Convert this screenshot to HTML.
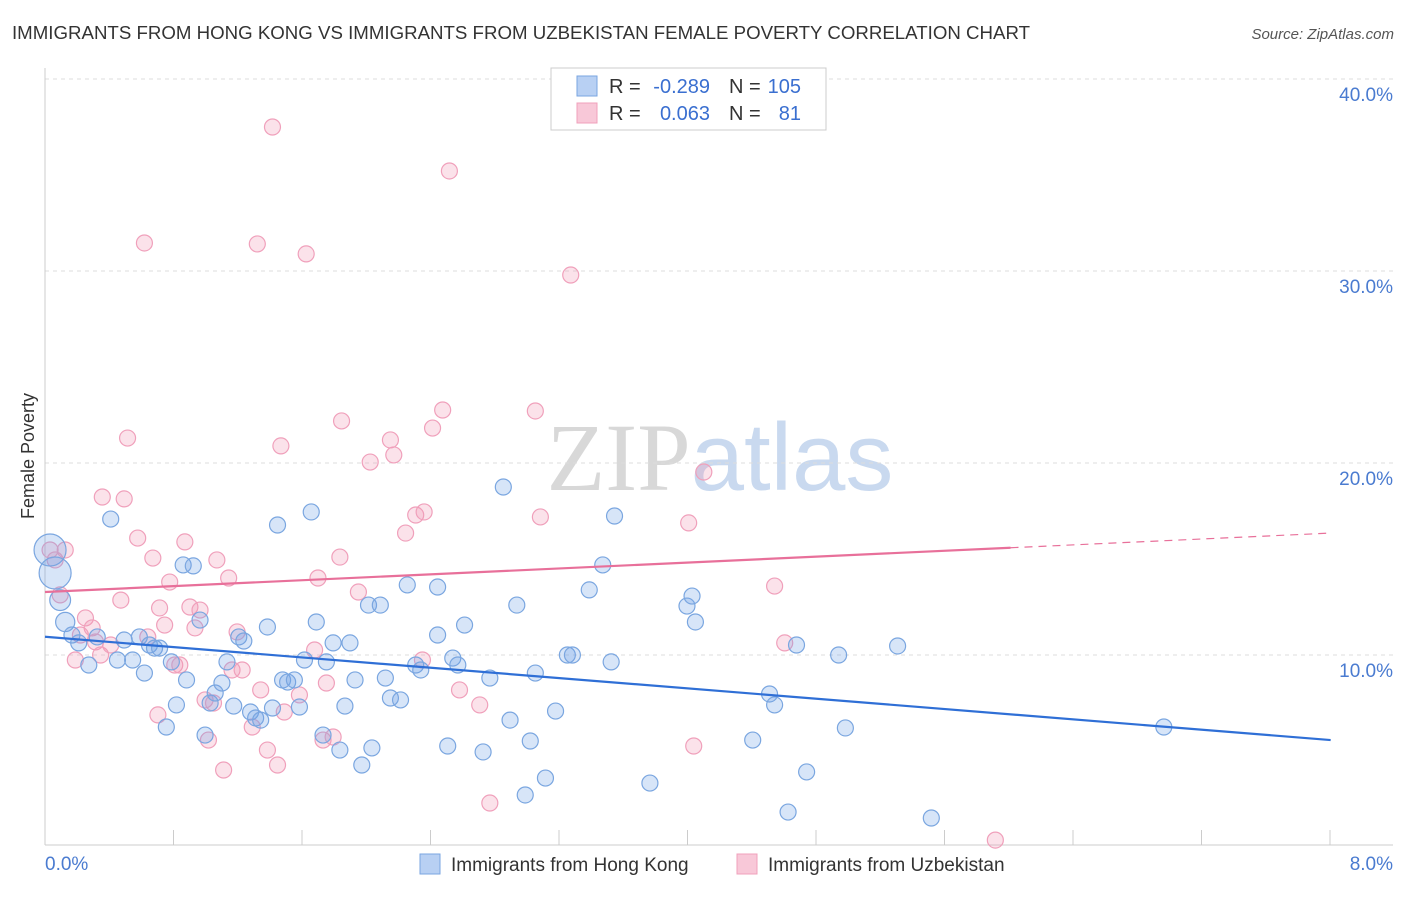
<!DOCTYPE html>
<html><head><meta charset="utf-8">
<style>
body{margin:0;background:#fff;font-family:"Liberation Sans",sans-serif;}
svg text{font-family:"Liberation Sans",sans-serif;}
</style></head>
<body>
<svg id="chart" width="1406" height="892" xmlns="http://www.w3.org/2000/svg">
<text x="12" y="39" font-size="18" fill="#333" textLength="1018" lengthAdjust="spacingAndGlyphs">IMMIGRANTS FROM HONG KONG VS IMMIGRANTS FROM UZBEKISTAN FEMALE POVERTY CORRELATION CHART</text>
<text x="1394" y="39" font-size="15" fill="#555" font-style="italic" text-anchor="end">Source: ZipAtlas.com</text>
<text x="720" y="490" font-size="96" fill="#ddd" text-anchor="middle" font-family="Liberation Serif"><tspan fill="#d8d8d8" font-family="Liberation Serif">ZIP</tspan><tspan fill="#c9d9ef" font-family="Liberation Sans">atlas</tspan></text>
<text x="34" y="456" font-size="18" fill="#333" text-anchor="middle" transform="rotate(-90 34 456)">Female Poverty</text>
<g id="grid"></g>
<g id="pts"></g>
<g id="trends"></g>
<g>
<rect x="551" y="68" width="275" height="62" fill="#fff" stroke="#ccc"/>
<rect x="577" y="76" width="20" height="20" fill="#b8d0f3" stroke="#7aa6e0"/>
<rect x="577" y="103" width="20" height="20" fill="#f8c8d8" stroke="#f0a0bb"/>
<text x="609" y="93" font-size="20" fill="#333">R =</text>
<text x="710" y="93" font-size="20" fill="#3a6fd0" text-anchor="end">-0.289</text>
<text x="729" y="93" font-size="20" fill="#333">N =</text>
<text x="801" y="93" font-size="20" fill="#3a6fd0" text-anchor="end">105</text>
<text x="609" y="120" font-size="20" fill="#333">R =</text>
<text x="710" y="120" font-size="20" fill="#3a6fd0" text-anchor="end">0.063</text>
<text x="729" y="120" font-size="20" fill="#333">N =</text>
<text x="801" y="120" font-size="20" fill="#3a6fd0" text-anchor="end">81</text>
</g>
<g>
<rect x="420" y="854" width="20" height="20" fill="#b8d0f3" stroke="#7aa6e0"/>
<text x="451" y="871" font-size="19" fill="#333">Immigrants from Hong Kong</text>
<rect x="737" y="854" width="20" height="20" fill="#f8c8d8" stroke="#f0a0bb"/>
<text x="768" y="871" font-size="19" fill="#333">Immigrants from Uzbekistan</text>
</g>
</svg>
<script>
const xTickLabels=["0.0%","8.0%"];
const yTicks=[10,20,30,40];
const yTickLabels=["10.0%","20.0%","30.0%","40.0%"];
const blueX=[0.03,0.06,0.09,0.12,0.16,0.20,0.26,0.31,0.39,0.43,0.47,0.52,0.56,0.59,0.62,0.65,0.68,0.72,0.75,0.78,0.82,0.84,0.88,0.92,0.95,0.98,1.01,1.05,1.08,1.12,1.15,1.18,1.22,1.25,1.28,1.32,1.35,1.38,1.41,1.44,1.48,1.51,1.54,1.58,1.61,1.65,1.67,1.71,1.75,1.78,1.81,1.84,1.88,1.92,1.94,1.99,2.02,2.05,2.11,2.15,2.20,2.23,2.33,2.33,2.39,2.42,2.45,2.49,2.60,2.64,2.72,2.76,2.80,2.85,2.88,2.91,2.97,3.03,3.10,3.13,3.23,3.31,3.36,3.38,3.59,3.81,3.84,3.86,4.20,4.30,4.33,4.41,4.46,4.52,4.71,4.75,5.06,5.26,6.64];
const blueY=[15.47,14.27,12.86,11.72,11.04,10.63,9.48,10.94,17.08,9.74,10.78,9.74,10.94,9.06,10.52,10.36,10.36,6.25,9.64,7.40,14.69,8.70,14.64,11.82,5.83,7.50,8.02,8.54,9.64,7.34,10.94,10.73,7.03,6.72,6.61,11.46,7.24,16.77,8.70,8.59,8.70,7.29,9.74,17.45,11.72,5.83,9.64,10.63,5.05,7.34,10.63,8.70,4.27,12.60,5.16,12.60,8.80,7.76,7.66,13.65,9.48,9.22,13.54,11.04,5.26,9.84,9.48,11.56,4.95,8.80,18.75,6.61,12.60,2.71,5.52,9.06,3.59,7.08,10.0,10.0,13.39,14.69,9.64,17.24,3.33,12.55,13.07,11.72,5.57,7.97,7.40,1.82,10.52,3.91,10.0,6.20,10.47,1.51,6.25];
const blueSize=[2,2,1.3,1.2];
const pinkX=[0.03,0.06,0.09,0.12,0.18,0.21,0.24,0.28,0.30,0.33,0.39,0.45,0.49,0.34,0.47,0.55,0.59,0.61,0.64,0.67,0.68,0.71,0.74,0.77,0.80,0.83,0.86,0.89,0.92,0.95,0.97,1.00,1.02,1.06,1.09,1.11,1.14,1.17,1.23,1.26,1.28,1.32,1.35,1.38,1.40,1.42,1.51,1.55,1.60,1.62,1.65,1.67,1.71,1.75,1.76,1.86,1.93,2.05,2.07,2.14,2.20,2.25,2.24,2.30,2.36,2.40,2.46,2.58,2.64,2.91,2.94,3.12,3.82,3.85,3.91,4.33,4.39,5.64];
const pinkY=[15.47,14.95,13.13,15.47,9.74,11.04,11.93,11.41,10.68,10.0,10.52,12.86,21.30,18.23,18.13,16.09,31.46,10.94,15.05,6.88,12.45,11.56,13.80,9.48,9.48,15.89,12.50,11.41,12.34,7.66,5.57,7.50,14.95,4.01,14.01,9.22,11.20,9.22,6.25,31.41,8.18,5.05,37.50,4.27,20.89,7.03,7.92,30.89,10.26,14.01,5.57,8.54,5.73,15.10,22.19,13.28,20.05,21.20,20.42,16.35,17.29,17.45,9.74,21.82,22.76,35.21,8.18,7.40,2.29,22.71,17.19,29.79,16.88,5.26,19.53,13.59,10.63,0.36];
const blueTrend=[10.95,5.57];
const pinkTrend=[13.28,16.35];
const trendX=[0,7.63];
const pinkSolidEnd=5.73;

const NS="http://www.w3.org/2000/svg";
const X0=45,X1=1393,Y0=847;
function sx(v){return X0+v*(X1-X0)/8;}
function sy(v){return Y0-v*19.2;}
function mk(tag,attrs,parent){const e=document.createElementNS(NS,tag);for(const k in attrs)e.setAttribute(k,attrs[k]);parent.appendChild(e);return e;}
const grid=document.getElementById('grid');
yTicks.forEach((t,i)=>{
 const l=mk('line',{x1:X0,x2:X1,y1:sy(t),y2:sy(t),stroke:'#ddd','stroke-dasharray':'4,4'},grid);
 
 
 const tx=mk('text',{x:1393,y:sy(t)+22,'font-size':19,fill:'#4a7bd0','text-anchor':'end'},grid);
 tx.textContent=yTickLabels[i];
 
 
});
const topLine=mk('line',{x1:X0,x2:X1,y1:79,y2:79,stroke:'#ddd','stroke-dasharray':'4,4'},grid);


const ax=mk('line',{x1:X0,x2:X1,y1:845,y2:845,stroke:'#ccc'},grid);


const ay=mk('line',{x1:X0,x2:X0,y1:68,y2:845,stroke:'#ccc'},grid);


for(let i=0;i<=10;i++){
 const px=X0+i*128.5;
 const t=mk('line',{x1:px,x2:px,y1:830,y2:845,stroke:'#ccc'},grid);
 
 
}
const xl0=mk('text',{x:45,y:870,'font-size':19,fill:'#4a7bd0'},grid);
xl0.textContent=xTickLabels[0];


const xl1=mk('text',{x:1393,y:870,'font-size':19,fill:'#4a7bd0','text-anchor':'end'},grid);
xl1.textContent=xTickLabels[1];



const pts=document.getElementById('pts');
pinkX.forEach((x,i)=>{
 const c=mk('circle',{cx:sx(x),cy:sy(pinkY[i]),r:8,fill:'rgba(240,150,180,0.28)',stroke:'#f0a0bb','stroke-width':1.2},pts);
 
 
});
blueX.forEach((x,i)=>{
 const r=8*(blueSize[i]||1);
 const c=mk('circle',{cx:sx(x),cy:sy(blueY[i]),r:r,fill:'rgba(110,160,230,0.28)',stroke:'#7aa6e0','stroke-width':1.2},pts);
 
 
});
const tr=document.getElementById('trends');
const bl=mk('line',{x1:sx(trendX[0]),y1:sy(blueTrend[0]),x2:sx(trendX[1]),y2:sy(blueTrend[1]),stroke:'#2f6fd6','stroke-width':2.2},tr);


const pslope=(pinkTrend[1]-pinkTrend[0])/(trendX[1]-trendX[0]);
const pmid=pinkTrend[0]+pslope*(pinkSolidEnd-trendX[0]);
const pl=mk('line',{x1:sx(trendX[0]),y1:sy(pinkTrend[0]),x2:sx(pinkSolidEnd),y2:sy(pmid),stroke:'#e8709a','stroke-width':2.2},tr);


const pd=mk('line',{x1:sx(pinkSolidEnd),y1:sy(pmid),x2:sx(trendX[1]),y2:sy(pinkTrend[1]),stroke:'#e8709a','stroke-width':1.2,'stroke-dasharray':'8,6'},tr);


</script>
</body></html>
